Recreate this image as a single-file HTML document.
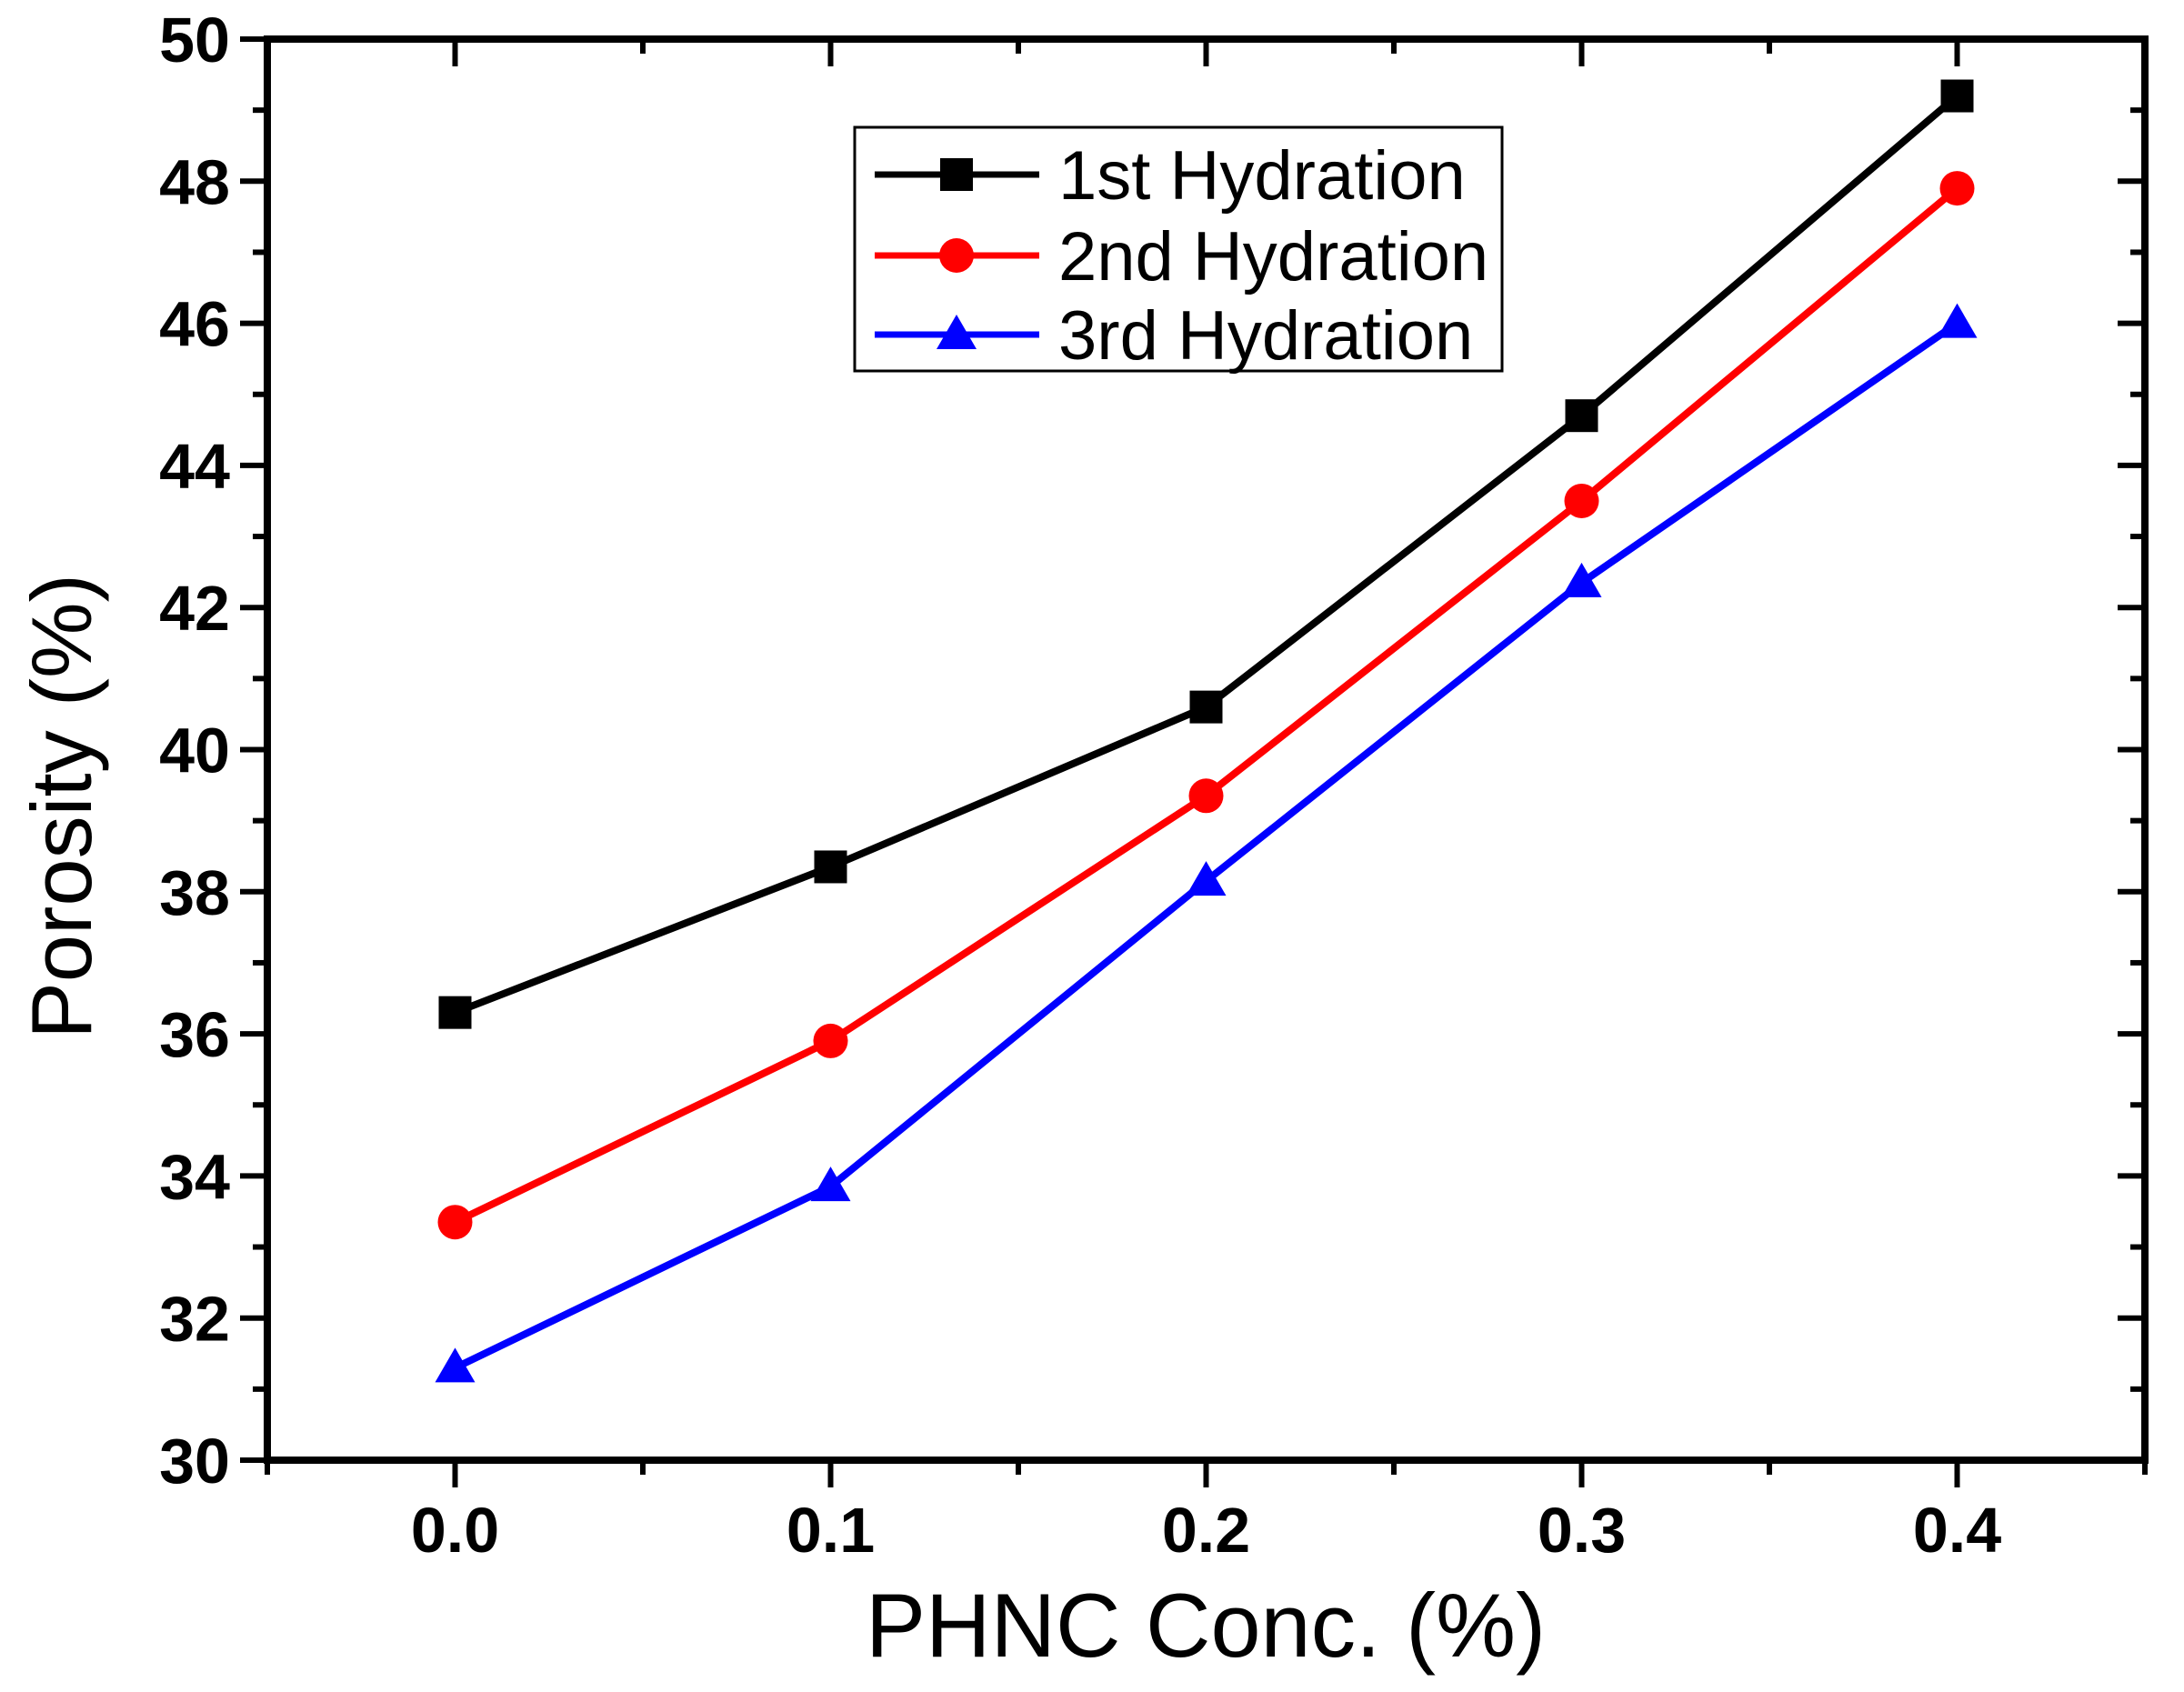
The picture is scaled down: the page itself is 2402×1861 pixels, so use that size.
<!DOCTYPE html>
<html><head><meta charset="utf-8"><style>
html,body{margin:0;padding:0;background:#fff;}
svg{display:block;font-family:"Liberation Sans",sans-serif;}
</style></head><body>
<svg id="chart" width="2402" height="1861" viewBox="0 0 2402 1861"></svg>
<script>
const categories=[0.0,0.1,0.2,0.3,0.4];
const series1=[36.3,38.35,40.6,44.7,49.2];
const series2=[33.35,35.9,39.35,43.5,47.9];
const series3=[31.3,33.85,38.15,42.35,46.0];
const seriesNames=["1st Hydration","2nd Hydration","3rd Hydration"];
const xTicks=[0.0,0.1,0.2,0.3,0.4];
const xTickLabels=["0.0","0.1","0.2","0.3","0.4"];
const yTicks=[30,32,34,36,38,40,42,44,46,48,50];
const yTickLabels=["30","32","34","36","38","40","42","44","46","48","50"];

const L=294,R=2359,T=43,B=1606;
const xMin=-0.05,xMax=0.45,yMin=30,yMax=50;
const sx=v=>L+(v-xMin)/(xMax-xMin)*(R-L);
const sy=v=>B-(v-yMin)/(yMax-yMin)*(B-T);
const svg=document.getElementById('chart');
const NS='http://www.w3.org/2000/svg';
function mk(tag,attrs,parent){const e=document.createElementNS(NS,tag);for(const k in attrs)e.setAttribute(k,attrs[k]);(parent||svg).appendChild(e);return e;}

for(let i=0;i<xTicks.length;i++){
  const x=sx(xTicks[i]);
  const t=mk('line',{x1:x,y1:B,x2:x,y2:B+30,stroke:'#000','stroke-width':6});
  
  
  const t2=mk('line',{x1:x,y1:T,x2:x,y2:T+30,stroke:'#000','stroke-width':6});
  
  
  const lb=mk('text',{x:x,y:1707,'text-anchor':'middle','font-size':70,'font-weight':'bold',fill:'#000'});
  lb.textContent=xTickLabels[i];
  
  
}
for(let v=xMin;v<=xMax+1e-9;v+=0.1){
  const x=sx(v);
  const m=mk('line',{x1:x,y1:B,x2:x,y2:B+16,stroke:'#000','stroke-width':6});
  
  
  const m2=mk('line',{x1:x,y1:T,x2:x,y2:T+16,stroke:'#000','stroke-width':6});
  
  
}
for(let i=0;i<yTicks.length;i++){
  const y=sy(yTicks[i]);
  const t=mk('line',{x1:L-30,y1:y,x2:L,y2:y,stroke:'#000','stroke-width':6});
  
  
  const t2=mk('line',{x1:R-30,y1:y,x2:R,y2:y,stroke:'#000','stroke-width':6});
  
  
  const lb=mk('text',{x:253,y:y+25,'text-anchor':'end','font-size':70,'font-weight':'bold',fill:'#000'});
  lb.textContent=yTickLabels[i];
  
  
  if(i<yTicks.length-1){
    const ym=sy(yTicks[i]+1);
    const m=mk('line',{x1:L-16,y1:ym,x2:L,y2:ym,stroke:'#000','stroke-width':6});
    
    
    const m2=mk('line',{x1:R-16,y1:ym,x2:R,y2:ym,stroke:'#000','stroke-width':6});
    
    
  }
}
const frame=mk('rect',{x:L,y:T,width:R-L,height:B-T,fill:'none',stroke:'#000','stroke-width':8});



function marker(type,x,y,color,parent){
  let e;
  if(type==='square')e=mk('rect',{x:x-18,y:y-18,width:36,height:36,fill:color},parent);
  else if(type==='circle')e=mk('circle',{cx:x,cy:y,r:19,fill:color},parent);
  else e=mk('polygon',{points:`${x},${y-22} ${x-22},${y+16} ${x+22},${y+16}`,fill:color},parent);
  return e;
}
const allSeries=[series1,series2,series3];
const colors=['#000','#f00','#00f'];
const types=['square','circle','triangle'];
const keys=['first','second','third'];
allSeries.forEach((s,si)=>{
  const g=mk('g',{});
  
  
  const pts=s.map((v,i)=>sx(categories[i])+','+sy(v)).join(' ');
  const pl=mk('polyline',{points:pts,fill:'none',stroke:colors[si],'stroke-width':8},g);
  
  
  s.forEach((v,i)=>{
    const m=marker(types[si],sx(categories[i]),sy(v),colors[si],g);
    
    
  });
});

const lg=mk('g',{});


const lbox=mk('rect',{x:940,y:140,width:712,height:268,fill:'#fff',stroke:'#000','stroke-width':3},lg);


const ly=[192,281,368];
for(let i=0;i<3;i++){
  const e=mk('g',{},lg);
  
  
  mk('line',{x1:962,y1:ly[i],x2:1143,y2:ly[i],stroke:colors[i],'stroke-width':7},e);
  marker(types[i],1052,ly[i],colors[i],e);
  const t=mk('text',{x:1164,y:ly[i]+27,'font-size':76,fill:'#000'},e);
  t.textContent=seriesNames[i];
}

const xt=mk('text',{x:1326,y:1822,'text-anchor':'middle','font-size':99,fill:'#000'});
xt.textContent='PHNC Conc. (%)';


const yt=mk('text',{x:0,y:0,'text-anchor':'middle','font-size':94,fill:'#000',transform:'translate(100,887) rotate(-90)'});
yt.textContent='Porosity (%)';


</script>
</body></html>
